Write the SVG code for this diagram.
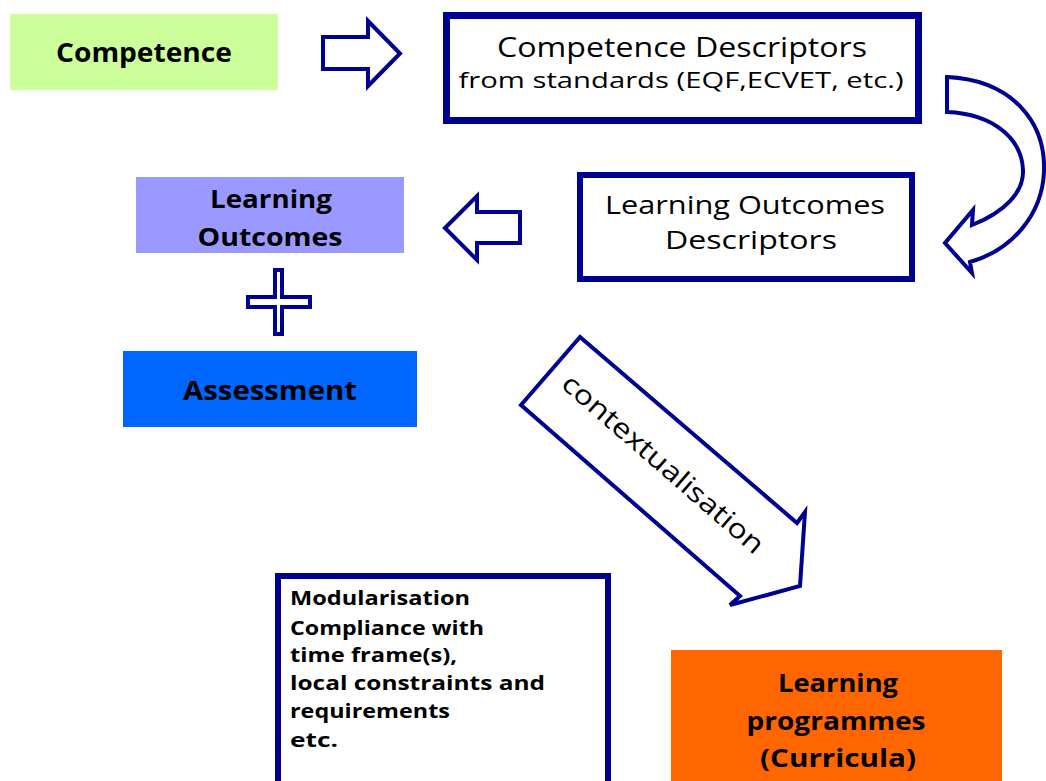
<svg xmlns="http://www.w3.org/2000/svg" width="1046" height="781" viewBox="0 0 1046 781">
  <style>
    .t { font-family: "Open Sans", "DejaVu Sans", sans-serif; fill: #000; }
    .b { font-weight: 700; }
    .r { font-weight: 400; }
    .m { text-anchor: middle; }
    .outline { fill: #fff; stroke: #000090; stroke-linejoin: miter; }
    .box { fill: #fff; stroke: #000090; }
  </style>
  <rect width="1046" height="781" fill="#fff"/>

  <g id="connectors">
    <polygon class="outline" stroke-width="4" points="323,37 368,37 368,21 400,53.5 368,86 368,69 323,69"/>
    <path class="outline" stroke-width="4" d="M947,77 C1012,80 1046,122 1044,172 C1042,215 1012,250 970,262 L972,273 L945,243 L973,210 L972,225 C1005,212 1024,192 1023,170 C1022,140 995,114 947,112 Z"/>
    <polygon class="outline" stroke-width="4" points="445,228 477,196 477,212 520,212 520,243 477,243 477,260"/>
    <g id="contextualisation">
      <polygon class="outline" stroke-width="4" points="580,337 797,523 805,512 800,586 730,605 740,596 521,405"/>
      <text class="t r m" font-size="27" transform="rotate(41 663 464)" x="663" y="473" textLength="258" lengthAdjust="spacingAndGlyphs">contextualisation</text>
    </g>
  </g>

  <g id="competence">
    <rect x="10" y="14" width="268" height="76" fill="#ccff99"/>
    <text class="t b m" font-size="26" x="144" y="62" textLength="176" lengthAdjust="spacingAndGlyphs">Competence</text>
  </g>

  <g id="competence-descriptors">
    <rect class="box" x="446.5" y="15.5" width="472" height="105" stroke-width="7"/>
    <text class="t r m" font-size="27" x="682" y="57" textLength="370" lengthAdjust="spacingAndGlyphs">Competence Descriptors</text>
    <text class="t r m" font-size="21" x="681" y="88" textLength="445" lengthAdjust="spacingAndGlyphs">from standards (EQF,ECVET, etc.)</text>
  </g>

  <g id="lo-descriptors">
    <rect class="box" x="580" y="175" width="332" height="104" stroke-width="6"/>
    <text class="t r m" font-size="25" x="745" y="214" textLength="280" lengthAdjust="spacingAndGlyphs">Learning Outcomes</text>
    <text class="t r m" font-size="25" x="751" y="249" textLength="172" lengthAdjust="spacingAndGlyphs">Descriptors</text>
  </g>

  <g id="learning-outcomes">
    <rect x="136" y="177" width="268" height="76" fill="#9999ff"/>
    <text class="t b m" font-size="25" x="271" y="208" textLength="122" lengthAdjust="spacingAndGlyphs">Learning</text>
    <text class="t b m" font-size="25" x="270" y="246" textLength="145" lengthAdjust="spacingAndGlyphs">Outcomes</text>
  </g>

  <g id="plus">
    <polygon class="outline" stroke-width="4" points="275,270 282,270 282,297 310,297 310,307 282,307 282,334 275,334 275,307 248,307 248,297 275,297"/>
  </g>

  <g id="assessment">
    <rect x="123" y="351" width="294" height="76" fill="#0066ff"/>
    <text class="t b m" font-size="26" x="270" y="400" textLength="174" lengthAdjust="spacingAndGlyphs">Assessment</text>
  </g>

  <g id="modularisation">
    <rect class="box" x="278" y="576" width="330" height="230" stroke-width="6"/>
    <text class="t b" font-size="20" x="290" y="605" textLength="180" lengthAdjust="spacingAndGlyphs">Modularisation</text>
    <text class="t b" font-size="20" x="290" y="635" textLength="194" lengthAdjust="spacingAndGlyphs">Compliance with</text>
    <text class="t b" font-size="20" x="290" y="662" textLength="167" lengthAdjust="spacingAndGlyphs">time frame(s),</text>
    <text class="t b" font-size="20" x="290" y="690" textLength="255" lengthAdjust="spacingAndGlyphs">local constraints and</text>
    <text class="t b" font-size="20" x="290" y="718" textLength="160" lengthAdjust="spacingAndGlyphs">requirements</text>
    <text class="t b" font-size="20" x="290" y="747" textLength="48" lengthAdjust="spacingAndGlyphs">etc.</text>
  </g>

  <g id="learning-programmes">
    <rect x="671" y="650" width="331" height="140" fill="#ff6600"/>
    <text class="t b m" font-size="25" x="838" y="692" textLength="120" lengthAdjust="spacingAndGlyphs">Learning</text>
    <text class="t b m" font-size="25" x="836" y="730" textLength="179" lengthAdjust="spacingAndGlyphs">programmes</text>
    <text class="t b m" font-size="25" x="838" y="767" textLength="156" lengthAdjust="spacingAndGlyphs">(Curricula)</text>
  </g>
</svg>
